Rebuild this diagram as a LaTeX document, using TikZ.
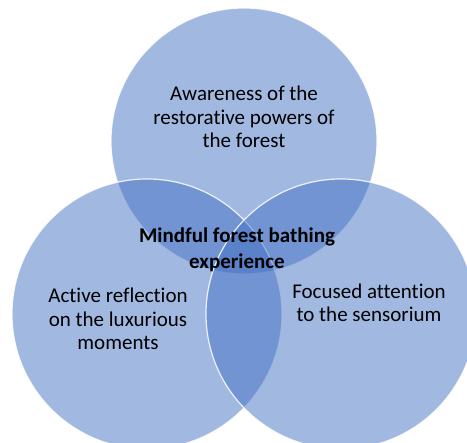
\documentclass[tikz,border=0pt]{standalone}
\usepackage{fontspec}
\setmainfont[Ligatures=NoCommon]{Carlito}
\definecolor{vennblue}{RGB}{68,114,196}
\begin{document}
\begin{tikzpicture}[x=1pt,y=-1pt,
  venn/.style={circle, inner sep=0pt, fill=vennblue, fill opacity=0.5, draw=white, draw opacity=0.85, line width=1.2pt},
  lbl/.style={align=center, text=black, font=\fontsize{21}{23.4}\selectfont},
  midlbl/.style={align=center, text=black, font=\fontsize{21}{26}\selectfont\bfseries}]
\fill[white] (0,0) rectangle (467,443);
\useasboundingbox (0,0) rectangle (467,443);
\clip (0,0) rectangle (467,443);
\node[venn, minimum size=266pt] (ctop) at (244,141) {};
\node[venn, minimum size=270pt] (cleft) at (147,314) {};
\node[venn, minimum size=270pt] (cright) at (341,314) {};
\node[lbl] (ttop) at (244,117) {Awareness of the\\restorative powers of\\the forest};
\node[lbl] (tleft) at (118,319) {Active reflection\\on the luxurious\\moments};
\node[lbl] (tright) at (369,303) {Focused attention\\to the sensorium};
\node[midlbl] (tmid) at (237,250) {Mindful forest bathing\\experience};
\end{tikzpicture}
\end{document}
